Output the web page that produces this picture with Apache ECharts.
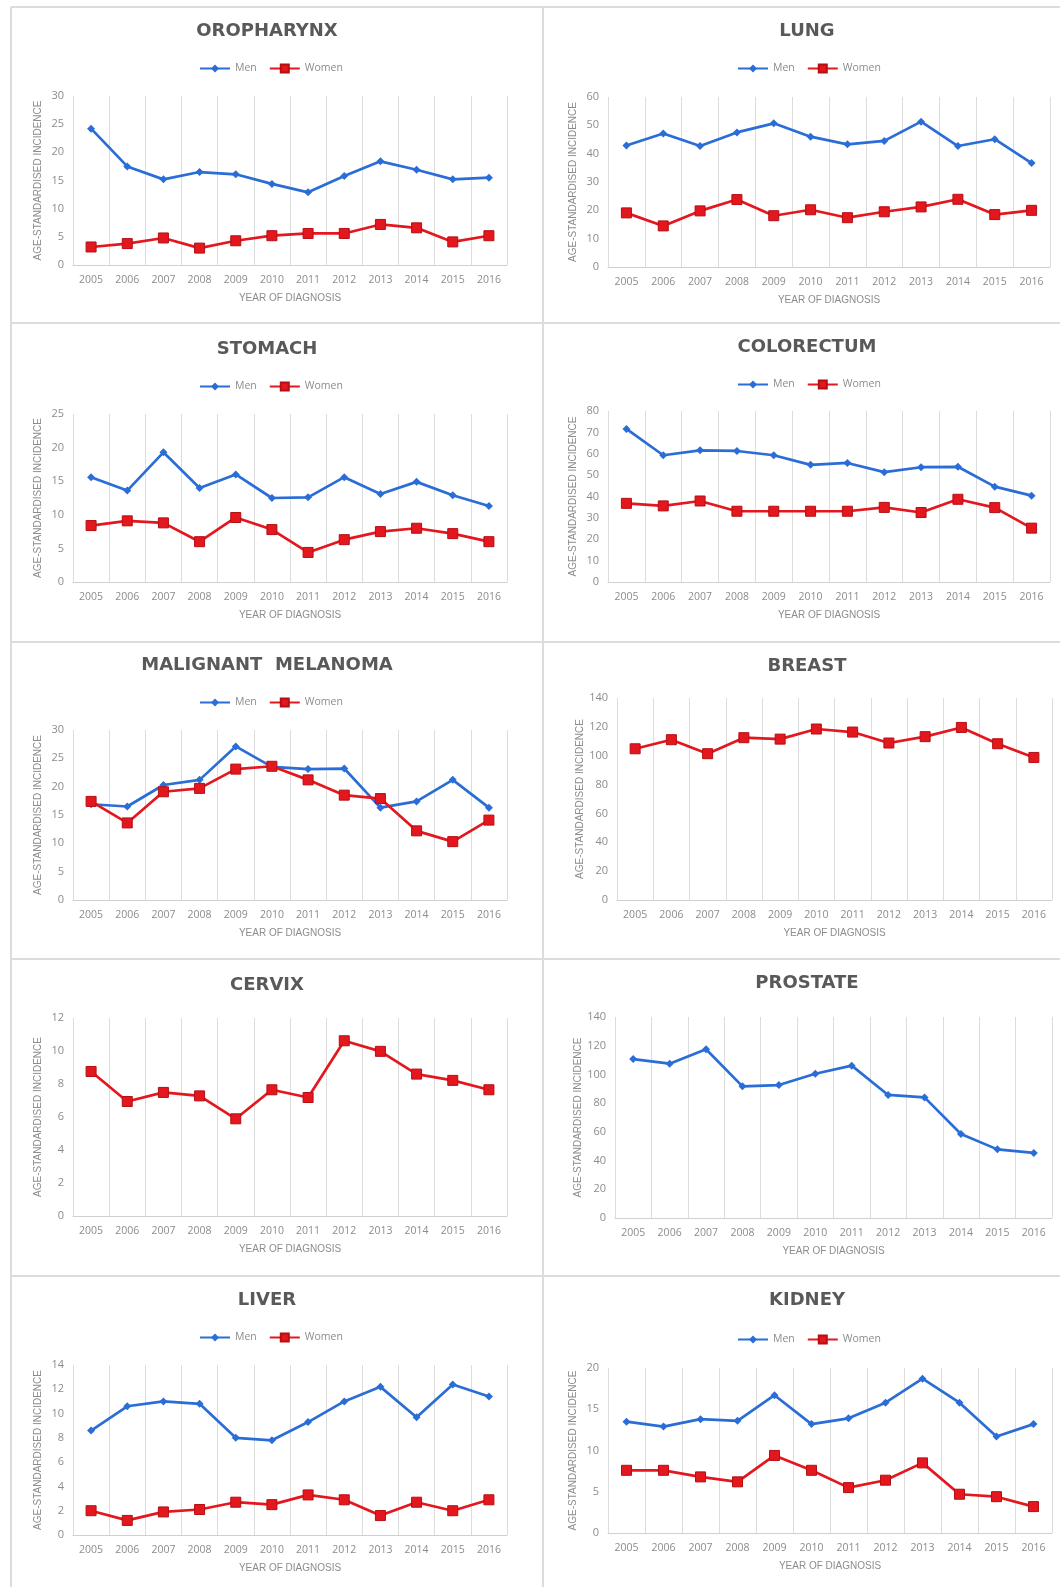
<!DOCTYPE html>
<html><head><meta charset="utf-8">
<script src="https://cdn.jsdelivr.net/npm/echarts@6/dist/echarts.min.js"></script>
<style>html,body{margin:0;padding:0;background:#fff}#c{width:1060px;height:1587px}</style>
</head><body><div id="c"></div><script>
const years = ['2005','2006','2007','2008','2009','2010','2011','2012','2013','2014','2015','2016'];

const oropharynxMen   = [24.2,17.5,15.2,16.5,16.1,14.4,12.9,15.8,18.4,16.9,15.2,15.5];
const oropharynxWomen = [3.2,3.8,4.8,3.0,4.3,5.2,5.6,5.6,7.2,6.6,4.1,5.2];
const lungMen         = [42.9,47.1,42.7,47.5,50.7,46.0,43.3,44.5,51.3,42.7,45.1,36.7];
const lungWomen       = [19.1,14.5,19.8,23.8,18.1,20.2,17.4,19.5,21.2,23.9,18.5,20.0];
const stomachMen      = [15.6,13.6,19.3,14.0,16.0,12.5,12.6,15.6,13.1,14.9,12.9,11.3];
const stomachWomen    = [8.4,9.1,8.8,6.0,9.6,7.8,4.4,6.3,7.5,8.0,7.2,6.0];
const colorectumMen   = [71.6,59.3,61.6,61.3,59.3,54.8,55.7,51.4,53.7,53.9,44.6,40.4];
const colorectumWomen = [36.8,35.6,37.9,33.1,33.1,33.1,33.1,34.9,32.5,38.7,34.8,25.2];
const melanomaMen     = [16.9,16.5,20.3,21.2,27.1,23.5,23.1,23.2,16.3,17.4,21.2,16.3];
const melanomaWomen   = [17.4,13.6,19.1,19.7,23.1,23.6,21.2,18.5,17.9,12.2,10.3,14.1];
const breastWomen     = [104.8,111.1,101.4,112.5,111.5,118.5,116.4,108.8,113.2,119.6,108.3,98.8];
const cervixWomen     = [8.76,6.94,7.49,7.28,5.89,7.65,7.18,10.62,9.98,8.60,8.22,7.65];
const prostateMen     = [110.7,107.5,117.5,91.7,92.6,100.5,106.1,85.7,84.0,58.5,47.8,45.3];
const liverMen        = [8.6,10.6,11.0,10.8,8.0,7.8,9.3,11.0,12.2,9.7,12.4,11.4];
const liverWomen      = [2.0,1.2,1.9,2.1,2.7,2.5,3.3,2.9,1.6,2.7,2.0,2.9];
const kidneyMen       = [13.5,12.9,13.8,13.6,16.7,13.2,13.9,15.8,18.7,15.8,11.7,13.2];
const kidneyWomen     = [7.6,7.6,6.8,6.2,9.4,7.6,5.5,6.4,8.5,4.7,4.4,3.2];

const panelTitles = ['OROPHARYNX','LUNG','STOMACH','COLORECTUM','MALIGNANT  MELANOMA','BREAST','CERVIX','PROSTATE','LIVER','KIDNEY'];
const axisMax      = [30,60,25,80,30,140,12,140,14,20];
const axisInterval = [5,10,5,10,5,20,2,20,2,5];
const panelMen   = [oropharynxMen,lungMen,stomachMen,colorectumMen,melanomaMen,null,null,prostateMen,liverMen,kidneyMen];
const panelWomen = [oropharynxWomen,lungWomen,stomachWomen,colorectumWomen,melanomaWomen,breastWomen,cervixWomen,null,liverWomen,kidneyWomen];
const yAxisName = 'AGE-STANDARDISED INCIDENCE';
const xAxisName = 'YEAR OF DIAGNOSIS';

// layout (pixels): grid left, top, width, height; title center x/y; legend left/top
const layout = [
  {l:73, t:96,  w:434, h:169, tx:267, ty:33,  lx:199, ly:68},
  {l:608,t:97,  w:442, h:170, tx:807, ty:33,  lx:737, ly:68},
  {l:73, t:414, w:434, h:168, tx:267, ty:351, lx:199, ly:386},
  {l:608,t:411, w:442, h:171, tx:807, ty:349, lx:737, ly:384},
  {l:73, t:730, w:434, h:170, tx:267, ty:667, lx:199, ly:702},
  {l:617,t:698, w:435, h:202, tx:807, ty:668, lx:0,   ly:0},
  {l:73, t:1018,w:434, h:198, tx:267, ty:987, lx:0,   ly:0},
  {l:615,t:1017,w:437, h:201, tx:807, ty:985, lx:0,   ly:0},
  {l:73, t:1365,w:434, h:170, tx:267, ty:1302,lx:199, ly:1337},
  {l:608,t:1368,w:444, h:165, tx:807, ty:1302,lx:737, ly:1339}
];

const gray = '#8c8c8c';
const font = 'Open Sans';
const blue = '#2a6dd6';
const red = '#e3171d';

const grid = [], xAxis = [], yAxis = [], title = [], legend = [], series = [];
layout.forEach((p, i) => {
  grid.push({left:p.l, top:p.t, width:p.w, height:p.h, containLabel:false});
  title.push({text:panelTitles[i], left:p.tx, top:p.ty - 11, textAlign:'center', padding:0,
    textStyle:{fontFamily:'DejaVu Sans', fontWeight:'bold', fontSize:18, color:'#595959'}});
  xAxis.push({type:'category', gridIndex:i, data:years, boundaryGap:true,
    axisTick:{show:false}, axisLine:{lineStyle:{color:'#d0d0d0', width:1}},
    splitLine:{show:true, lineStyle:{color:'#dcdcdc', width:1}},
    axisLabel:{color:gray, fontSize:10.5, margin:10, interval:0, fontFamily:font},
    name:xAxisName, nameLocation:'middle', nameGap:28,
    nameTextStyle:{color:gray, fontSize:10, fontFamily:'Liberation Sans'}});
  yAxis.push({type:'value', gridIndex:i, min:0, max:axisMax[i], interval:axisInterval[i],
    axisLine:{show:false}, axisTick:{show:false}, splitLine:{show:false},
    axisLabel:{color:gray, fontSize:11, margin:9, fontFamily:font},
    name:yAxisName, nameLocation:'middle', nameRotate:90, nameGap:30,
    nameTextStyle:{color:gray, fontSize:10, fontFamily:'Liberation Sans'}});
  if (panelMen[i] && panelWomen[i]) {
    legend.push({data:['Men','Women'], left:p.lx, top:p.ly - 5, padding:0, itemWidth:30, itemHeight:10, itemGap:12,
      selectedMode:false, textStyle:{color:gray, fontSize:10.5, fontFamily:font}});
  }
  if (panelMen[i]) {
    series.push({type:'line', name:'Men', xAxisIndex:i, yAxisIndex:i, data:panelMen[i],
      symbol:'diamond', symbolSize:8, lineStyle:{color:blue, width:2.7}, itemStyle:{color:blue}, z:2, animation:false});
  }
  if (panelWomen[i]) {
    series.push({type:'line', name:'Women', xAxisIndex:i, yAxisIndex:i, data:panelWomen[i],
      symbol:'rect', symbolSize:10, lineStyle:{color:red, width:2.7},
      itemStyle:{color:red, borderColor:'#b50f14', borderWidth:1}, z:3, animation:false});
  }
});

const lineStyle = {stroke:'#dcdcdc', lineWidth:2};
const borders = [];
[11, 543].forEach(x => borders.push({type:'line', shape:{x1:x, y1:7, x2:x, y2:1587}, style:lineStyle, silent:true}));
[7, 323, 642, 959, 1276].forEach(y => borders.push({type:'line', shape:{x1:11, y1:y, x2:1060, y2:y}, style:lineStyle, silent:true}));

const chart = echarts.init(document.getElementById('c'));
chart.setOption({
  animation:false,
  backgroundColor:'#ffffff',
  graphic: borders,
  title, legend, grid, xAxis, yAxis, series
});
</script></body></html>
